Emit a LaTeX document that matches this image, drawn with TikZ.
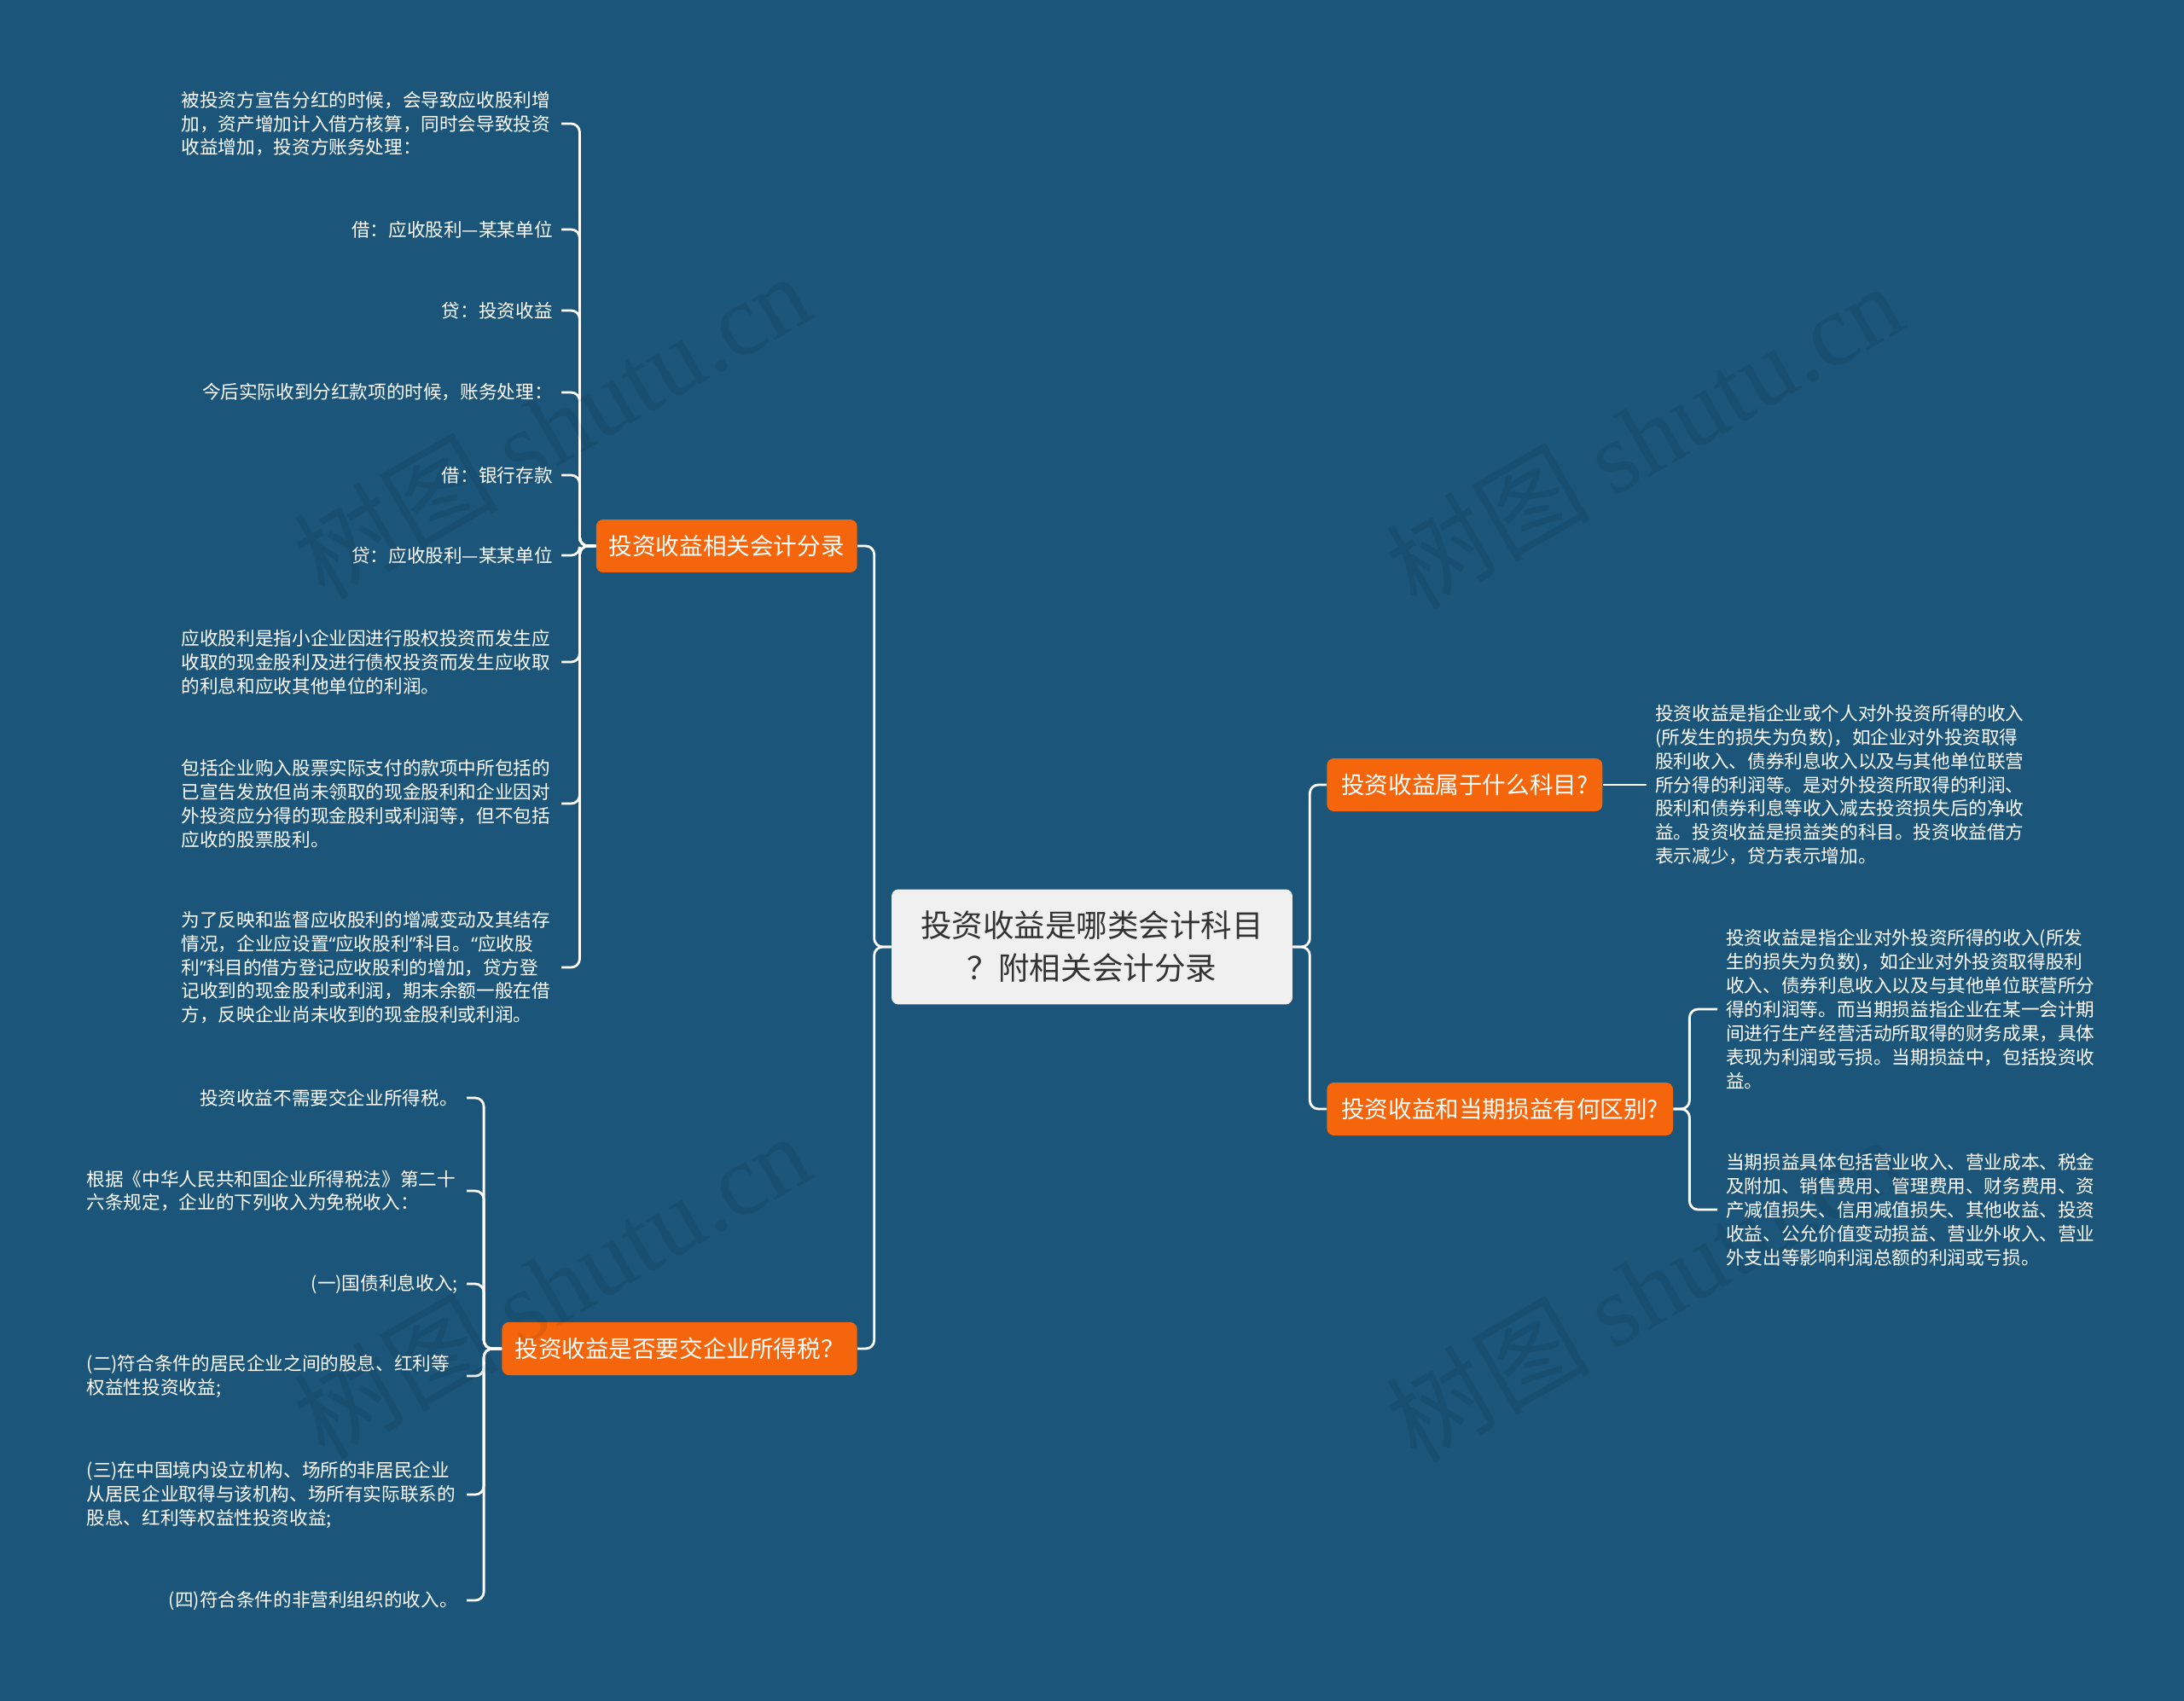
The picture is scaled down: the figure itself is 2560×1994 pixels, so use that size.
\documentclass[tikz,border=0pt]{standalone}
\usepackage{fontspec}
\newfontfamily\cjk{Noto Sans CJK SC}
\newfontfamily\latq{Noto Sans}
\newfontfamily\wmlatin{Liberation Serif}
\definecolor{mapBg}{HTML}{1B5579}
\definecolor{mapOrange}{HTML}{F4650C}
\definecolor{mapRoot}{HTML}{F0F0F0}
\definecolor{mapInk}{HTML}{333333}
\newcommand{\leafsize}{\fontsize{12.3pt}{15.9pt}\selectfont}
\newcommand{\oq}{{\latq “}}
\newcommand{\cq}{{\latq ”}}

\begin{document}
\begin{tikzpicture}[
  x=0.02cm, y=-0.02cm, font=\cjk,
  root/.style={fill=mapRoot, text=mapInk, rounded corners=0.16cm, align=center,
               minimum width=9.4cm, minimum height=2.7cm,
               font=\cjk\fontsize{20.8pt}{28.4pt}\selectfont},
  topic/.style={fill=mapOrange, text=white, rounded corners=0.16cm, inner xsep=0.3cm,
                minimum height=1.24cm, font=\cjk\fontsize{15.7pt}{19pt}\selectfont},
  leaf/.style={text=white, inner xsep=0.2cm, inner ysep=0pt, font=\cjk\leafsize},
  para/.style={leaf, text width=8.7cm, align=left},
  link/.style={draw=white, line width=1.6pt, rounded corners=0.2cm},
  wmark/.style={text=black, text opacity=0.08, rotate=30,
                font=\cjk\fontsize{68pt}{68pt}\selectfont},
]
\fill[mapBg] (0,0) rectangle (2560,1994);

\node[root] (root) at (1280,1110) {投资收益是哪类会计科目\\？附相关会计分录};

\node[topic, anchor=east] (br1) at (1005,640) {投资收益相关会计分录};
\node[topic, anchor=east] (br2) at (1005,1581) {投资收益是否要交企业所得税？};
\node[topic, anchor=west, inner xsep=0.34cm] (br3) at (1555,920) {投资收益属于什么科目?};
\node[topic, anchor=west, inner xsep=0.34cm] (br4) at (1555,1300) {投资收益和当期损益有何区别?};

% left upper leaves
\node[para, anchor=east] (a1) at (658,145) {被投资方宣告分红的时候，会导致应收股利增\\加，资产增加计入借方核算，同时会导致投资\\收益增加，投资方账务处理：};
\node[leaf, anchor=east] (a2) at (658,269) {借：应收股利—某某单位};
\node[leaf, anchor=east] (a3) at (658,364) {贷：投资收益};
\node[leaf, anchor=east] (a4) at (658,460) {今后实际收到分红款项的时候，账务处理：};
\node[leaf, anchor=east] (a5) at (658,557) {借：银行存款};
\node[leaf, anchor=east] (a6) at (658,651) {贷：应收股利—某某单位};
\node[para, anchor=east] (a7) at (658,776) {应收股利是指小企业因进行股权投资而发生应\\收取的现金股利及进行债权投资而发生应收取\\的利息和应收其他单位的利润。};
\node[para, anchor=east] (a8) at (658,942) {包括企业购入股票实际支付的款项中所包括的\\已宣告发放但尚未领取的现金股利和企业因对\\外投资应分得的现金股利或利润等，但不包括\\应收的股票股利。};
\node[para, anchor=east] (a9) at (658,1134) {为了反映和监督应收股利的增减变动及其结存\\情况，企业应设置\oq 应收股利\cq 科目。\oq 应收股\\利\cq 科目的借方登记应收股利的增加，贷方登\\记收到的现金股利或利润，期末余额一般在借\\方，反映企业尚未收到的现金股利或利润。};

% left lower leaves
\node[leaf, anchor=east] (b1) at (547,1287) {投资收益不需要交企业所得税。};
\node[para, anchor=east] (b2) at (547,1396) {根据《中华人民共和国企业所得税法》第二十\\六条规定，企业的下列收入为免税收入：};
\node[leaf, anchor=east] (b3) at (547,1505) {(一)国债利息收入;};
\node[para, anchor=east] (b4) at (547,1613) {(二)符合条件的居民企业之间的股息、红利等\\权益性投资收益;};
\node[para, anchor=east] (b5) at (547,1752) {(三)在中国境内设立机构、场所的非居民企业\\从居民企业取得与该机构、场所有实际联系的\\股息、红利等权益性投资收益;};
\node[leaf, anchor=east] (b6) at (547,1876) {(四)符合条件的非营利组织的收入。};

% right leaves
\node[para, anchor=west] (c1) at (1930,920) {投资收益是指企业或个人对外投资所得的收入\\(所发生的损失为负数)，如企业对外投资取得\\股利收入、债券利息收入以及与其他单位联营\\所分得的利润等。是对外投资所取得的利润、\\股利和债券利息等收入减去投资损失后的净收\\益。投资收益是损益类的科目。投资收益借方\\表示减少，贷方表示增加。};
\node[para, anchor=west] (d1) at (2013,1183) {投资收益是指企业对外投资所得的收入(所发\\生的损失为负数)，如企业对外投资取得股利\\收入、债券利息收入以及与其他单位联营所分\\得的利润等。而当期损益指企业在某一会计期\\间进行生产经营活动所取得的财务成果，具体\\表现为利润或亏损。当期损益中，包括投资收\\益。};
\node[para, anchor=west] (d2) at (2013,1418) {当期损益具体包括营业收入、营业成本、税金\\及附加、销售费用、管理费用、财务费用、资\\产减值损失、信用减值损失、其他收益、投资\\收益、公允价值变动损益、营业外收入、营业\\外支出等影响利润总额的利润或亏损。};

\foreach \t in {br1, br2}
  \draw[link] (root.west) -- ++(-20,0) |- (\t.east);
\foreach \t in {br3, br4}
  \draw[link] (root.east) -- ++(20,0) |- (\t.west);
\foreach \l in {a1, a2, a3, a4, a5, a6, a7, a8, a9}
  \draw[link] (br1.west) -- ++(-19,0) |- (\l.east);
\foreach \l in {b1, b2, b3, b4, b5, b6}
  \draw[link] (br2.west) -- ++(-21,0) |- (\l.east);
\draw[link] (br3.east) -- (c1.west);
\foreach \l in {d1, d2}
  \draw[link] (br4.east) -- ++(19,0) |- (\l.west);

% watermarks
\foreach \p [count=\i] in {(647,498), (1927,510), (647,1506), (1927,1510)}
  \node[wmark] (wm\i) at \p {树图 {\wmlatin shutu.cn}};
\end{tikzpicture}
\end{document}
